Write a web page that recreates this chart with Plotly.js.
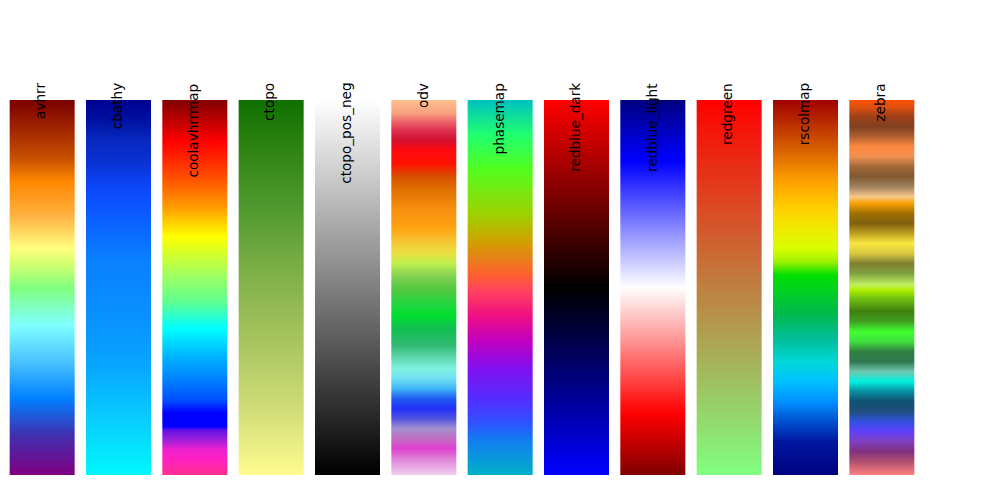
<!DOCTYPE html>
<html>
<head>
<meta charset="utf-8">
<script src="https://cdn.plot.ly/plotly-3.0.1.min.js"></script>
<style>html,body{margin:0;padding:0;background:#fff;}#chart{width:1000px;height:500px;}</style>
</head>
<body>
<div id="chart"></div>
<script>
// Colormap names (left to right)
const names = ["avhrr","cbathy","coolavhrrmap","ctopo","ctopo_pos_neg","odv","phasemap","redblue_dark","redblue_light","redgreen","rscolmap","zebra"];

// Each colormap: [fraction from top, colour]
const avhrr = [[0,"#7c0000"],[0.067,"#9a2000"],[0.156,"#c85000"],[0.218,"#ff8800"],[0.307,"#ffb040"],[0.396,"#ffff80"],[0.44,"#d0ff70"],[0.502,"#80ff80"],[0.6,"#80ffff"],[0.689,"#50c8ff"],[0.796,"#0080ff"],[0.893,"#4030b0"],[1,"#800080"]];
const cbathy = [[0,"#000090"],[0.053,"#0010a0"],[0.107,"#0828c0"],[0.16,"#0a30d0"],[0.213,"#0c40f0"],[0.267,"#0c50ff"],[0.32,"#0a60ff"],[0.373,"#0a70ff"],[0.427,"#0a80ff"],[0.507,"#0a88ff"],[0.627,"#0898ff"],[0.716,"#08a8ff"],[0.804,"#08c0ff"],[0.893,"#08d8ff"],[1,"#00f8ff"]];
const coolavhrrmap = [[0,"#800000"],[0.111,"#ff0000"],[0.209,"#ff5000"],[0.289,"#ffa000"],[0.364,"#ffff00"],[0.467,"#a0ff60"],[0.538,"#60ff90"],[0.609,"#00ffff"],[0.689,"#00b0ff"],[0.747,"#0080ff"],[0.8,"#0050ff"],[0.835,"#0000ff"],[0.871,"#0000ff"],[0.88,"#6010e8"],[0.907,"#a020d8"],[0.933,"#f020d0"],[0.96,"#ff20c0"],[1,"#ff3090"]];
const ctopo = [[0,"#0e7000"],[0.111,"#2a8010"],[0.289,"#509a30"],[0.467,"#80b048"],[0.644,"#a8c460"],[0.822,"#d0dc78"],[1,"#fffc90"]];
const ctopo_pos_neg = [[0,"#ffffff"],[1,"#000000"]];
const odv = [[0,"#ffc090"],[0.036,"#f8a080"],[0.053,"#f07070"],[0.08,"#e03050"],[0.107,"#d01030"],[0.133,"#ff0810"],[0.169,"#ff1000"],[0.204,"#d85000"],[0.24,"#e07000"],[0.293,"#f89010"],[0.338,"#ffa010"],[0.373,"#f8c030"],[0.409,"#e8e040"],[0.436,"#c0f050"],[0.471,"#80d050"],[0.507,"#50c840"],[0.547,"#20d840"],[0.573,"#00e030"],[0.609,"#10c050"],[0.653,"#30b870"],[0.689,"#60d8b0"],[0.716,"#80f0e0"],[0.742,"#70e0f0"],[0.769,"#40b8f8"],[0.795,"#2060f0"],[0.822,"#2030f8"],[0.849,"#5050e0"],[0.876,"#a090d0"],[0.902,"#c070c0"],[0.929,"#e040d0"],[0.956,"#e080d8"],[1,"#f0d0f0"]];
const phasemap = [[0,"#00c0c0"],[0.093,"#20ff70"],[0.182,"#50ff20"],[0.307,"#a0d000"],[0.378,"#d0a000"],[0.467,"#ff6030"],[0.511,"#ff4060"],[0.573,"#f01080"],[0.644,"#c000c0"],[0.716,"#8010f0"],[0.804,"#5030ff"],[0.858,"#3050ff"],[0.911,"#1080f0"],[1,"#00b0c8"]];
const redblue_dark = [[0,"#ff0000"],[0.5,"#000000"],[1,"#0000ff"]];
const redblue_light = [[0,"#000080"],[0.164,"#0000ff"],[0.5,"#ffffff"],[0.836,"#ff0000"],[1,"#800000"]];
const redgreen = [[0,"#ff0000"],[1,"#80ff80"]];
const rscolmap = [[0,"#a00000"],[0.111,"#d05000"],[0.218,"#ffa000"],[0.289,"#ffd000"],[0.342,"#f0e800"],[0.396,"#d8ff00"],[0.431,"#a0f000"],[0.467,"#00e000"],[0.573,"#00b850"],[0.644,"#00c0a0"],[0.698,"#00d8d8"],[0.751,"#00c0ff"],[0.804,"#0090ff"],[0.858,"#0050d0"],[0.911,"#0018a0"],[1,"#000080"]];
const zebra = [[0,"#ff5000"],[0.018,"#e05010"],[0.044,"#a04018"],[0.071,"#804020"],[0.098,"#b06030"],[0.124,"#ff8840"],[0.151,"#f09050"],[0.178,"#a06838"],[0.204,"#805830"],[0.231,"#a08060"],[0.258,"#f8c888"],[0.276,"#f8a000"],[0.302,"#a07000"],[0.329,"#806010"],[0.356,"#c0a020"],[0.382,"#f8e840"],[0.409,"#d8c840"],[0.436,"#808030"],[0.462,"#80a040"],[0.493,"#c0f060"],[0.507,"#b0f000"],[0.529,"#70c010"],[0.564,"#408010"],[0.591,"#40a020"],[0.618,"#40ff30"],[0.644,"#40e040"],[0.671,"#308040"],[0.698,"#307850"],[0.724,"#70c8b0"],[0.751,"#00f0e0"],[0.777,"#0890a0"],[0.804,"#105070"],[0.831,"#205080"],[0.858,"#3050e0"],[0.884,"#6040f8"],[0.911,"#8040c0"],[0.937,"#803080"],[0.964,"#b05070"],[1,"#ff8080"]];

const maps = [avhrr, cbathy, coolavhrrmap, ctopo, ctopo_pos_neg, odv, phasemap, redblue_dark, redblue_light, redgreen, rscolmap, zebra];

// gradient sampling (fraction from top)
const N = 375;
const yEdges = [];
for (let k = 0; k <= N; k++) yEdges.push(k / N);
const zCol = [];
for (let k = 0; k < N; k++) zCol.push([(k + 0.5) / N]);

const half = 0.4258;
const traces = maps.map((cm, i) => ({
  type: "heatmap",
  x: [i - half, i + half],
  y: yEdges,
  z: zCol,
  zmin: 0, zmax: 1,
  colorscale: cm,
  showscale: false,
  hoverinfo: "skip"
}));

const annotations = names.map((n, i) => ({
  x: i, xref: "x",
  y: 1.05, yref: "paper",
  text: n,
  textangle: -90,
  xanchor: "center", yanchor: "top",
  xshift: -1.5,
  showarrow: false,
  font: {family: "DejaVu Sans", size: 13.6, color: "#000000"}
}));

const layout = {
  width: 1000, height: 500,
  margin: {l: 4, r: 80, t: 100, b: 25, autoexpand: false},
  paper_bgcolor: "#ffffff", plot_bgcolor: "#ffffff",
  showlegend: false,
  xaxis: {range: [-0.5, 11.5], visible: false, showgrid: false, zeroline: false, fixedrange: true},
  yaxis: {range: [1, 0], visible: false, showgrid: false, zeroline: false, fixedrange: true},
  annotations: annotations
};

Plotly.newPlot("chart", traces, layout, {displayModeBar: false, staticPlot: true});
</script>
</body>
</html>
